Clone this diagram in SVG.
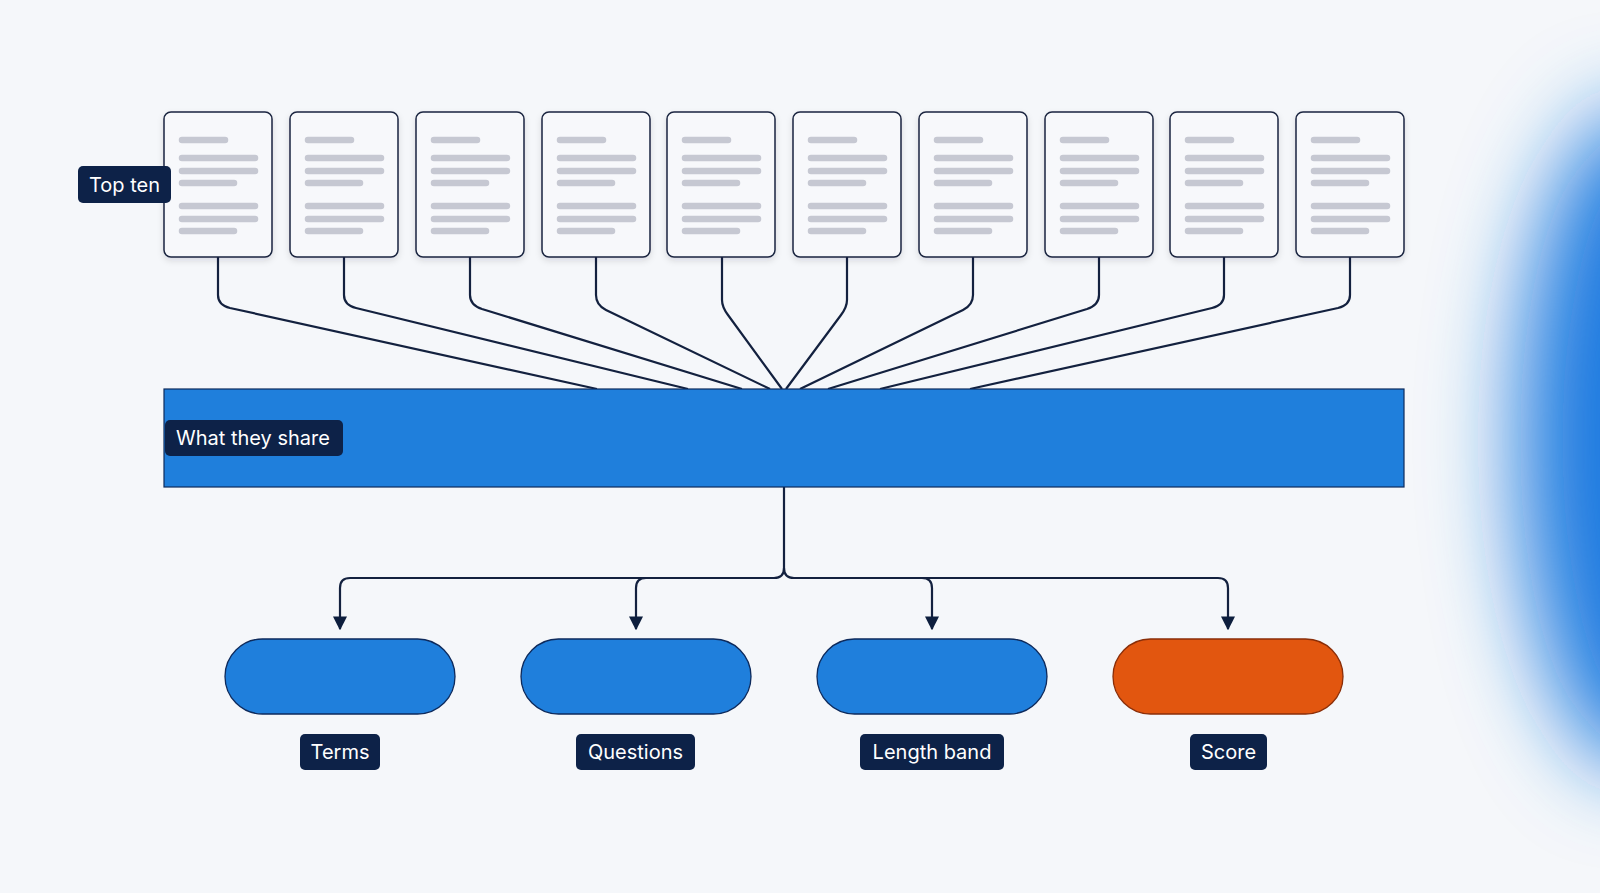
<svg xmlns="http://www.w3.org/2000/svg" width="1600" height="893" viewBox="0 0 1600 893">
<defs>
<filter id="blur" x="-50%" y="-50%" width="200%" height="200%"><feGaussianBlur stdDeviation="45"/></filter>
<filter id="sh" x="-20%" y="-20%" width="140%" height="140%"><feDropShadow dx="0" dy="3" stdDeviation="3" flood-color="#0d1e3d" flood-opacity="0.12"/></filter>
<marker id="arr" viewBox="0 0 10 10" refX="9" refY="5" markerWidth="14" markerHeight="14" markerUnits="userSpaceOnUse" orient="auto"><path d="M0,0 L10,5 L0,10 Z" fill="#0d1e3d"/></marker>
<g id="doc">
<rect x="0" y="0" width="108" height="145" rx="7" fill="#f7f8fb" stroke="#1a2540" stroke-width="1.5" filter="url(#sh)"/>
<g stroke="#c6c8d2" stroke-width="6.5" stroke-linecap="round">
<line x1="18" y1="28" x2="61" y2="28"/>
<line x1="18" y1="46" x2="91" y2="46"/>
<line x1="18" y1="59" x2="91" y2="59"/>
<line x1="18" y1="71" x2="70" y2="71"/>
<line x1="18" y1="94" x2="91" y2="94"/>
<line x1="18" y1="107" x2="91" y2="107"/>
<line x1="18" y1="119" x2="70" y2="119"/>
</g>
</g>
</defs>
<style>
.lbl{font-family:Inter,"Liberation Sans",sans-serif;font-size:20px;fill:#ffffff}
.tag{fill:#0d2248}
.c{fill:none;stroke:#13213f;stroke-width:2.2}
</style>
<rect width="1600" height="893" fill="#f5f7fa"/>
<ellipse cx="1640" cy="440" rx="120" ry="330" fill="#1a7ae0" filter="url(#blur)"/>
<g id="connectors">
<path class="c" d="M218,257 V295 Q218,305 230,308 L597,389"/>
<path class="c" d="M344,257 V295 Q344,305 356,308 L688,389"/>
<path class="c" d="M470,257 V295 Q470,305 482,309 L742,389"/>
<path class="c" d="M596,257 V295 Q596,305 606,310 L770,389"/>
<path class="c" d="M722,257 V300 Q722,307 728,315 L782,389"/>
<path class="c" d="M847,257 V300 Q847,307 841,315 L786,389"/>
<path class="c" d="M973,257 V295 Q973,305 963,310 L800,389"/>
<path class="c" d="M1099,257 V295 Q1099,305 1087,309 L828,389"/>
<path class="c" d="M1224,257 V295 Q1224,305 1212,308 L880,389"/>
<path class="c" d="M1350,257 V295 Q1350,305 1338,308 L970,389"/>
<path class="c" d="M784,487 V568 Q784,578 774,578 H350 Q340,578 340,588 V629" marker-end="url(#arr)"/>
<path class="c" d="M774,578 H646 Q636,578 636,588 V629" marker-end="url(#arr)"/>
<path class="c" d="M784,568 Q784,578 794,578 H922 Q932,578 932,588 V629" marker-end="url(#arr)"/>
<path class="c" d="M922,578 H1218 Q1228,578 1228,588 V629" marker-end="url(#arr)"/>
</g>
<g id="docs">
<use href="#doc" x="164" y="112"/>
<use href="#doc" x="290" y="112"/>
<use href="#doc" x="416" y="112"/>
<use href="#doc" x="542" y="112"/>
<use href="#doc" x="667" y="112"/>
<use href="#doc" x="793" y="112"/>
<use href="#doc" x="919" y="112"/>
<use href="#doc" x="1045" y="112"/>
<use href="#doc" x="1170" y="112"/>
<use href="#doc" x="1296" y="112"/>
</g>
<g id="topten"><rect class="tag" x="78" y="166" width="93" height="37" rx="5"/><text class="lbl" x="124.5" y="191.5" text-anchor="middle">Top ten</text></g>
<g id="share">
<rect x="164" y="389" width="1240" height="98" fill="#1f7fdc" stroke="#0d2a5c" stroke-width="1.2"/>
<rect class="tag" x="165" y="420" width="178" height="36" rx="5"/><text class="lbl" x="253" y="445" text-anchor="middle">What they share</text>
</g>
<g id="terms"><rect x="225" y="639" width="230" height="75" rx="37.5" fill="#1f7fdc" stroke="#0d2a5c" stroke-width="1.3"/><rect class="tag" x="300" y="734" width="80" height="36" rx="5"/><text class="lbl" x="340" y="759" text-anchor="middle">Terms</text></g>
<g id="questions"><rect x="521" y="639" width="230" height="75" rx="37.5" fill="#1f7fdc" stroke="#0d2a5c" stroke-width="1.3"/><rect class="tag" x="576" y="734" width="119" height="36" rx="5"/><text class="lbl" x="635.5" y="759" text-anchor="middle">Questions</text></g>
<g id="length"><rect x="817" y="639" width="230" height="75" rx="37.5" fill="#1f7fdc" stroke="#0d2a5c" stroke-width="1.3"/><rect class="tag" x="860" y="734" width="144" height="36" rx="5"/><text class="lbl" x="932" y="759" text-anchor="middle">Length band</text></g>
<g id="score"><rect x="1113" y="639" width="230" height="75" rx="37.5" fill="#e2560f" stroke="#8a2e08" stroke-width="1.3"/><rect class="tag" x="1190" y="734" width="77" height="36" rx="5"/><text class="lbl" x="1228.5" y="759" text-anchor="middle">Score</text></g>
</svg>
